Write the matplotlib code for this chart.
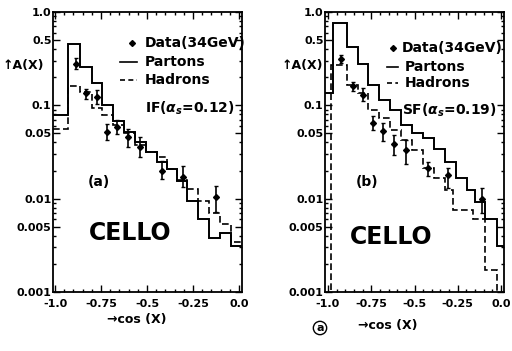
import matplotlib
matplotlib.use("Agg")
import matplotlib.pyplot as plt
from matplotlib.ticker import FixedLocator, NullFormatter

plt.rcParams.update({'font.family': 'DejaVu Sans', 'font.weight': 'bold', 'font.size': 8})

# panel (a): IF model
a_edges = [-1.011, -0.929, -0.864, -0.799, -0.745, -0.685, -0.625, -0.565, -0.505,
           -0.446, -0.391, -0.337, -0.283, -0.223, -0.163, -0.103, -0.043, 0.016]
a_partons = [0.078, 0.45, 0.26, 0.175, 0.102, 0.068, 0.052, 0.040, 0.032,
             0.025, 0.021, 0.0155, 0.0095, 0.006, 0.0038, 0.0043, 0.0031]
a_hadrons = [0.056, 0.161, 0.139, 0.094, 0.078, 0.062, 0.050, 0.038, 0.032,
             0.028, 0.021, 0.016, 0.0128, 0.0095, 0.0071, 0.0054, 0.0034]
a_x = [-0.886, -0.832, -0.773, -0.719, -0.661, -0.602, -0.538, -0.420, -0.306, -0.125]
a_y = [0.28, 0.134, 0.123, 0.052, 0.058, 0.0456, 0.0356, 0.020, 0.017, 0.0103]
a_lo = [0.248, 0.118, 0.104, 0.042, 0.0497, 0.0357, 0.0279, 0.0163, 0.0132, 0.0072]
a_hi = [0.318, 0.151, 0.145, 0.0636, 0.069, 0.056, 0.0456, 0.0256, 0.0225, 0.0138]

# panel (b): SF model
b_edges = [-1.017, -0.971, -0.890, -0.827, -0.769, -0.705, -0.642, -0.578, -0.514,
           -0.451, -0.387, -0.324, -0.260, -0.197, -0.150, -0.092, -0.023, 0.017]
b_partons = [0.134, 0.755, 0.42, 0.28, 0.166, 0.114, 0.09, 0.062, 0.05,
             0.045, 0.034, 0.025, 0.0166, 0.0125, 0.0092, 0.006, 0.0031]
b_had_edges = [-0.983, -0.890, -0.827, -0.769, -0.705, -0.642, -0.578, -0.514,
               -0.451, -0.387, -0.324, -0.277, -0.162, -0.092, -0.023]
b_hadrons = [0.27, 0.166, 0.136, 0.09, 0.073, 0.055, 0.042, 0.033,
             0.0214, 0.0166, 0.0125, 0.0076, 0.006, 0.0017]
b_x = [-0.925, -0.857, -0.799, -0.742, -0.684, -0.617, -0.549, -0.424, -0.308, -0.110]
b_y = [0.312, 0.162, 0.129, 0.0645, 0.0525, 0.039, 0.0335, 0.0214, 0.0178, 0.0098]
b_lo = [0.283, 0.144, 0.11, 0.0548, 0.041, 0.0297, 0.0233, 0.0173, 0.0131, 0.0071]
b_hi = [0.347, 0.18, 0.152, 0.076, 0.065, 0.048, 0.0428, 0.025, 0.0214, 0.0131]

yticks = [1.0, 0.5, 0.1, 0.05, 0.01, 0.005, 0.001]
ylabels = ['1.0', '0.5', '0.1', '0.05', '0.01', '0.005', '0.001']
xticks = [-1.0, -0.75, -0.5, -0.25, 0.0]
xlabels = ['-1.0', '-0.75', '-0.5', '-0.25', '0.0']

fig = plt.figure(figsize=(5.12, 3.51), dpi=100)
W, H = 512.0, 351.0
ax_a = fig.add_axes([53 / W, (H - 292) / H, 189 / W, 280 / H])
ax_b = fig.add_axes([325 / W, (H - 292) / H, 179 / W, 280 / H])


def style(ax, xlim):
    ax.set_yscale('log')
    ax.set_ylim(0.001, 1.0)
    ax.set_xlim(*xlim)
    ax.yaxis.set_major_locator(FixedLocator(yticks))
    ax.set_yticklabels(ylabels)
    ax.yaxis.set_minor_locator(FixedLocator([0.002, 0.003, 0.004, 0.006, 0.007, 0.008, 0.009,
                                             0.02, 0.03, 0.04, 0.06, 0.07, 0.08, 0.09,
                                             0.2, 0.3, 0.4, 0.6, 0.7, 0.8, 0.9]))
    ax.yaxis.set_minor_formatter(NullFormatter())
    ax.set_xticks(xticks)
    ax.set_xticklabels(xlabels)
    ax.set_xticks([-1 + 0.05 * i for i in range(21)], minor=True)
    ax.tick_params(which='both', direction='in', top=True, right=True, width=1.0,
                   labelsize=8)
    ax.tick_params(axis='y', pad=1.0)
    ax.tick_params(axis='x', pad=5.0)
    ax.tick_params(which='major', length=5)
    ax.tick_params(which='minor', length=2.5)
    for s in ax.spines.values():
        s.set_linewidth(1.3)


style(ax_a, (-1.011, 0.016))
style(ax_b, (-1.017, 0.017))

# histograms
ax_a.stairs(a_partons, a_edges, baseline=None, color='black', lw=1.4)
ax_a.stairs(a_hadrons, a_edges, baseline=None, color='black', lw=1.2, linestyle=(0, (4, 2)))
ax_b.stairs(b_partons, b_edges, baseline=None, color='black', lw=1.4)
ax_b.stairs(b_hadrons, b_had_edges, baseline=0.0005, color='black', lw=1.2, linestyle=(0, (4, 2)))

# data points
for ax, x, y, lo, hi in [(ax_a, a_x, a_y, a_lo, a_hi), (ax_b, b_x, b_y, b_lo, b_hi)]:
    err = [[v - l for v, l in zip(y, lo)], [h - v for v, h in zip(y, hi)]]
    ax.errorbar(x, y, yerr=err, fmt='D', ms=3, color='black', ecolor='black',
                elinewidth=1.2, capsize=1.5, capthick=1.0)


# legends drawn as text
def legend(ax, xm, xl, xd, xt, ys, model, ym):
    ax.plot([xm], [ys[0]], marker='D', ms=3, color='black', transform=ax.transAxes)
    ax.text(xd, ys[0], 'Data(34GeV)', transform=ax.transAxes, fontsize=10, va='center')
    ax.plot(xl, [ys[1], ys[1]], color='black', lw=1.2, transform=ax.transAxes)
    ax.text(xt, ys[1], 'Partons', transform=ax.transAxes, fontsize=10, va='center')
    ax.plot(xl, [ys[2], ys[2]], color='black', lw=1.2, ls=(0, (3, 2)),
            transform=ax.transAxes)
    ax.text(xt, ys[2], 'Hadrons', transform=ax.transAxes, fontsize=10, va='center')
    ax.text(0.96, ym, model, transform=ax.transAxes, fontsize=10, va='center', ha='right')


legend(ax_a, 0.42, [0.355, 0.445], 0.487, 0.487, [0.889, 0.82, 0.757],
       r'IF($\alpha_s$=0.12)', 0.657)
legend(ax_b, 0.38, [0.345, 0.41], 0.43, 0.447, [0.871, 0.805, 0.746],
       r'SF($\alpha_s$=0.19)', 0.65)

ax_a.text(0.185, 0.393, '(a)', transform=ax_a.transAxes, fontsize=10, va='center')
ax_b.text(0.173, 0.393, '(b)', transform=ax_b.transAxes, fontsize=10, va='center')
ax_a.text(0.41, 0.21, 'CELLO', transform=ax_a.transAxes, fontsize=17, va='center', ha='center')
ax_b.text(0.37, 0.195, 'CELLO', transform=ax_b.transAxes, fontsize=17, va='center', ha='center')

fig.text(3 / W, 1 - 65 / H, '\u2191A(X)', fontsize=9, va='center')
fig.text(282 / W, 1 - 65 / H, '\u2191A(X)', fontsize=9, va='center')
fig.text(137 / W, 1 - 320 / H, '\u2192cos (X)', fontsize=9, va='center', ha='center')
fig.text(388 / W, 1 - 325 / H, '\u2192cos (X)', fontsize=9, va='center', ha='center')
fig.text(320 / W, 1 - 328 / H, 'a', fontsize=8, va='center', ha='center',
         bbox=dict(boxstyle='circle,pad=0.15', fc='white', ec='black', lw=1.0))

fig.savefig('out.png', dpi=100)
